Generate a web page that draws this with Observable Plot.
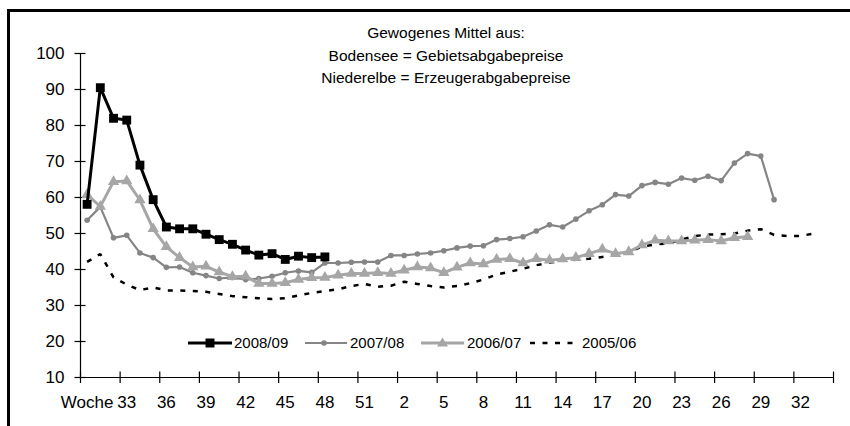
<!DOCTYPE html>
<html><head><meta charset="utf-8">
<script src="https://cdn.jsdelivr.net/npm/d3@7"></script>
<script src="https://cdn.jsdelivr.net/npm/@observablehq/plot@0.6"></script>
<style>
html,body{margin:0;padding:0;background:#fff;font-family:"Liberation Sans",Arial,sans-serif;overflow:hidden;}
#wrap{position:relative;width:850px;height:426px;overflow:hidden;background:#fff;}
#frame{position:absolute;left:7px;top:9px;width:900px;height:500px;border-top:3px solid #000;border-left:3px solid #000;}
#chart{position:absolute;left:0;top:0;}
.leg{position:absolute;top:334px;height:18px;font-size:15px;line-height:18px;color:#000;white-space:nowrap;}
.leg svg{position:absolute;top:0;left:0;}
</style></head><body>
<div id="wrap"><div id="frame"></div><div id="chart"></div><div id="legend"></div></div>
<script>
// categories (week numbers), index 0 = week 30 of the first year
const weeks = [30,31,32,33,34,35,36,37,38,39,40,41,42,43,44,45,46,47,48,49,50,51,52,
  1,2,3,4,5,6,7,8,9,10,11,12,13,14,15,16,17,18,19,20,21,22,23,24,25,26,27,28,29,30,31,32,33,34];
// tick labels shown on every third category
const xLabels = ["Woche","33","36","39","42","45","48","51","2","5","8","11","14","17","20","23","26","29","32"];
const yTicks = [10,20,30,40,50,60,70,80,90,100];

const seriesNames = ["2008/09","2007/08","2006/07","2005/06"];
const s0809 = [58.1,90.5,82.0,81.5,69.0,59.4,51.8,51.3,51.3,49.8,48.3,47.0,45.4,44.0,44.4,42.8,43.7,43.3,43.5];
const s0708 = [53.7,57.4,48.8,49.5,44.6,43.3,40.6,40.7,39.1,38.3,37.5,37.8,37.2,37.5,38.1,39.1,39.6,39.2,41.8,41.8,
  42.0,42.1,42.1,43.9,43.9,44.3,44.6,45.2,46.0,46.5,46.6,48.3,48.6,49.1,50.7,52.4,51.8,54.0,56.3,58.0,
  60.8,60.4,63.3,64.2,63.7,65.4,64.8,65.9,64.7,69.6,72.2,71.5,59.4];
const s0607 = [60.8,57.5,64.4,64.6,59.3,51.3,46.3,43.3,40.7,40.9,39.3,38.0,38.1,36.1,36.1,36.3,37.2,37.7,37.8,38.4,
  38.9,38.9,39.1,38.9,39.8,40.7,40.4,39.1,40.6,41.8,41.5,42.8,43.0,41.8,43.0,42.6,42.9,43.3,44.4,45.6,
  44.4,44.9,46.8,48.1,47.9,47.9,48.1,48.3,47.9,48.8,49.1];
const s0506 = [42.1,44.3,37.8,35.8,34.3,35.0,34.2,34.2,34.0,33.8,33.2,32.6,32.3,32.0,31.8,32.0,32.8,33.5,34.0,34.5,
  35.4,36.0,35.2,35.5,36.6,36.0,35.4,35.0,35.4,36.2,37.2,38.6,39.4,40.2,41.2,41.9,42.5,42.7,43.0,43.5,
  44.0,44.9,46.3,47.0,47.2,48.3,49.3,49.7,49.8,50.0,50.8,51.2,49.6,49.3,49.3,50.0];

const titleText = "Gewogenes Mittel aus:\nBodensee = Gebietsabgabepreise\nNiederelbe = Erzeugerabgabepreise";

const rows = vals => vals.map((v, i) => ({i, v}));
const n = weeks.length;
const labelIdx = weeks.map((w, i) => i).filter(i => i % 3 === 0);
const tickPos = labelIdx.map(i => i - 0.5).concat([n - 0.5]);

const C0809 = "#000000", C0708 = "#858585", C0607 = "#A6A6A6", C0506 = "#000000";

const chart = Plot.plot({
  width: 850, height: 426,
  marginLeft: 80, marginRight: 17, marginTop: 53, marginBottom: 49,
  style: {fontFamily: "'Liberation Sans', Arial, sans-serif", fontSize: "17px", background: "transparent"},
  x: {type: "linear", domain: [-0.5, n - 0.5]},
  y: {type: "linear", domain: [10, 100]},
  marks: [
    Plot.text([titleText], {frameAnchor: "top", dx: -11, lineAnchor: "middle", lineHeight: 1.45, fontSize: 15.5, fill: "#000"}),
    Plot.ruleY([10], {x1: () => -0.5, x2: () => n - 0.5, stroke: "#000", strokeWidth: 1.2}),
    Plot.ruleX([-0.5], {y1: () => 10, y2: () => 100, stroke: "#000", strokeWidth: 1.2}),
    Plot.ruleY(yTicks, {y: d => d, x1: () => -0.5, x2: () => -0.5, insetLeft: -5.5, insetRight: -5.5, stroke: "#000", strokeWidth: 1.2}),
    Plot.ruleX(tickPos, {x: d => d, y1: () => 10, y2: () => 10, insetTop: -5.5, insetBottom: -6, stroke: "#000", strokeWidth: 1.2}),
    Plot.axisY({ticks: yTicks, tickSize: 0, tickPadding: 16, fontSize: 17, label: null}),
    Plot.axisX({ticks: labelIdx, tickFormat: i => xLabels[labelIdx.indexOf(i)], tickSize: 0, tickPadding: 18, fontSize: 17, label: null}),
    Plot.line(rows(s0506), {x: "i", y: "v", stroke: C0506, strokeWidth: 2.5, strokeDasharray: "5,7.5", strokeLinecap: "butt", strokeLinejoin: "miter"}),
    Plot.line(rows(s0708), {x: "i", y: "v", stroke: C0708, strokeWidth: 2.2}),
    Plot.dot(rows(s0708), {x: "i", y: "v", r: 2.8, fill: C0708}),
    Plot.line(rows(s0607), {x: "i", y: "v", stroke: C0607, strokeWidth: 3}),
    Plot.dot(rows(s0607), {x: "i", y: "v", symbol: "triangle", r: 4.2, fill: C0607}),
    Plot.line(rows(s0809), {x: "i", y: "v", stroke: C0809, strokeWidth: 3}),
    Plot.dot(rows(s0809), {x: "i", y: "v", symbol: "square", r: 5, fill: C0809})
  ]
});
document.getElementById("chart").appendChild(chart);

// legend
const legendDefs = [
  {name: seriesNames[0], left: 188, w: 44, textLeft: 234,
   svg: `<line x1="0" y1="9" x2="44" y2="9" stroke="${C0809}" stroke-width="3"/><rect x="17.5" y="4.5" width="9" height="9" fill="${C0809}"/>`},
  {name: seriesNames[1], left: 305, w: 42, textLeft: 350,
   svg: `<line x1="0" y1="9" x2="42" y2="9" stroke="${C0708}" stroke-width="2.2"/><circle cx="19" cy="9" r="2.8" fill="${C0708}"/>`},
  {name: seriesNames[2], left: 421, w: 43, textLeft: 467,
   svg: `<line x1="0" y1="9" x2="43" y2="9" stroke="${C0607}" stroke-width="3"/><path d="M21.5,3.5 L27,12.5 L16,12.5 Z" fill="${C0607}"/>`},
  {name: seriesNames[3], left: 530, w: 48, textLeft: 582,
   svg: `<line x1="0" y1="9" x2="48" y2="9" stroke="${C0506}" stroke-width="2.5" stroke-dasharray="5,7.5"/>`}
];
const leg = document.getElementById("legend");
for (const d of legendDefs) {
  const sw = document.createElement("div");
  sw.className = "leg"; sw.style.left = d.left + "px"; sw.style.width = d.w + "px";
  sw.innerHTML = `<svg width="${d.w}" height="18">${d.svg}</svg>`;
  leg.appendChild(sw);
  const t = document.createElement("div");
  t.className = "leg"; t.style.left = d.textLeft + "px"; t.textContent = d.name;
  leg.appendChild(t);
}
</script>
</body></html>
